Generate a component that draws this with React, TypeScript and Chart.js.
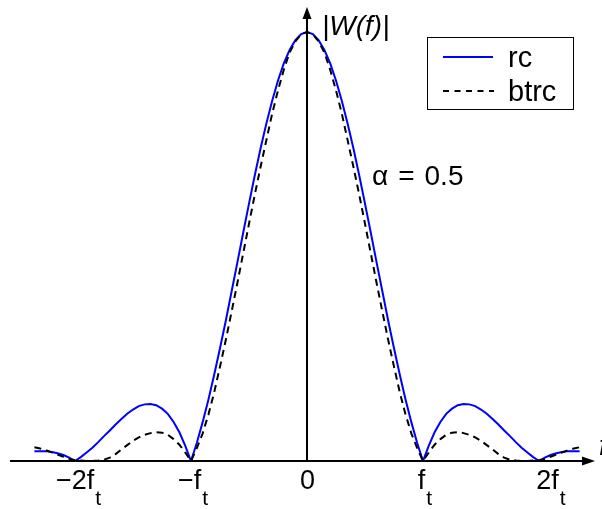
import { useEffect, useRef } from "react";
import { Chart, registerables } from "chart.js";

Chart.register(...registerables);

// Normalised frequency f / f_t
const freq = [
  -2.35, -2.3, -2.25, -2.2, -2.15, -2.1, -2.05, -2.0, -1.95, -1.9, -1.85, -1.8, -1.75, -1.7, -1.65, -1.6,
  -1.55, -1.5, -1.45, -1.4, -1.35, -1.3, -1.25, -1.2, -1.15, -1.1, -1.05, -1.0, -0.95, -0.9, -0.85, -0.8,
  -0.75, -0.7, -0.65, -0.6, -0.55, -0.5, -0.45, -0.4, -0.35, -0.3, -0.25, -0.2, -0.15, -0.1, -0.05, 0,
  0.05, 0.1, 0.15, 0.2, 0.25, 0.3, 0.35, 0.4, 0.45, 0.5, 0.55, 0.6, 0.65, 0.7, 0.75, 0.8,
  0.85, 0.9, 0.95, 1.0, 1.05, 1.1, 1.15, 1.2, 1.25, 1.3, 1.35, 1.4, 1.45, 1.5, 1.55, 1.6,
  1.65, 1.7, 1.75, 1.8, 1.85, 1.9, 1.95, 2.0, 2.05, 2.1, 2.15, 2.2, 2.25, 2.3, 2.35,
];

// |W(f)| of the raised-cosine window
const rcMag = [
  0.023, 0.023, 0.023, 0.021, 0.018, 0.014, 0.008, 0.0, 0.009, 0.02, 0.031, 0.044, 0.058, 0.071, 0.085, 0.098,
  0.11, 0.12, 0.128, 0.132, 0.133, 0.13, 0.122, 0.11, 0.091, 0.067, 0.036, 0.0, 0.042, 0.09, 0.143, 0.201,
  0.263, 0.327, 0.395, 0.463, 0.532, 0.6, 0.666, 0.729, 0.787, 0.84, 0.887, 0.927, 0.958, 0.981, 0.995, 1.0,
  0.995, 0.981, 0.958, 0.927, 0.887, 0.84, 0.787, 0.729, 0.666, 0.6, 0.532, 0.463, 0.395, 0.327, 0.263, 0.201,
  0.143, 0.09, 0.042, 0.0, 0.036, 0.067, 0.091, 0.11, 0.122, 0.13, 0.133, 0.132, 0.128, 0.12, 0.11, 0.098,
  0.085, 0.071, 0.058, 0.044, 0.031, 0.02, 0.009, 0.0, 0.008, 0.014, 0.018, 0.021, 0.023, 0.023, 0.023,
];

// |W(f)| of the better-than-raised-cosine window
const btrcMag = [
  0.032, 0.029, 0.025, 0.02, 0.015, 0.01, 0.005, 0.002, 0.001, 0.0, 0.0, 0.001, 0.003, 0.008, 0.016, 0.027,
  0.037, 0.047, 0.055, 0.061, 0.065, 0.067, 0.066, 0.061, 0.051, 0.038, 0.02, 0.0, 0.03, 0.064, 0.108, 0.16,
  0.22, 0.282, 0.348, 0.415, 0.484, 0.553, 0.621, 0.686, 0.748, 0.81, 0.864, 0.912, 0.952, 0.978, 0.995, 1.0,
  0.995, 0.978, 0.952, 0.912, 0.864, 0.81, 0.748, 0.686, 0.621, 0.553, 0.484, 0.415, 0.348, 0.282, 0.22, 0.16,
  0.108, 0.064, 0.03, 0.0, 0.02, 0.038, 0.051, 0.061, 0.066, 0.067, 0.065, 0.061, 0.055, 0.047, 0.037, 0.027,
  0.016, 0.008, 0.003, 0.001, 0.0, 0.0, 0.001, 0.002, 0.005, 0.01, 0.015, 0.02, 0.025, 0.029, 0.032,
];

const tickValues = [-2, -1, 0, 1, 2];
const tickMain = ["\u22122f", "\u2212f", "0", "f", "2f"];
const tickSub = ["t", "t", "", "t", "t"];
const seriesNames = ["rc", "btrc"];
const yTitle = "|W(f)|";
const xTitle = "f";
const alphaNote = "\u03b1 = 0.5";

const FONT = '"Liberation Sans", Arial, Helvetica, sans-serif';
const BLUE = "#0000ff";
const DASH = [7, 5];

const decorations = {
  id: "decorations",
  beforeDraw(chart: any) {
    const { ctx, width, height } = chart;
    ctx.save();
    ctx.fillStyle = "#ffffff";
    ctx.fillRect(0, 0, width, height);
    ctx.restore();
  },
  afterDatasetsDraw(chart: any) {
    const { ctx } = chart;
    const xs = chart.scales.x;
    const ys = chart.scales.y;
    const x0 = xs.getPixelForValue(0);
    const y0 = ys.getPixelForValue(0);
    const right = xs.right;
    const top = ys.top;

    ctx.save();
    ctx.strokeStyle = "#000";
    ctx.fillStyle = "#000";
    ctx.lineWidth = 2;
    ctx.setLineDash([]);

    // horizontal axis with arrow
    ctx.beginPath();
    ctx.moveTo(xs.left, y0);
    ctx.lineTo(right - 8, y0);
    ctx.stroke();
    ctx.beginPath();
    ctx.moveTo(right, y0);
    ctx.lineTo(right - 13, y0 - 4.5);
    ctx.lineTo(right - 13, y0 + 4.5);
    ctx.closePath();
    ctx.fill();

    // vertical axis with arrow
    ctx.beginPath();
    ctx.moveTo(x0, y0);
    ctx.lineTo(x0, top + 8);
    ctx.stroke();
    ctx.beginPath();
    ctx.moveTo(x0, top);
    ctx.lineTo(x0 - 4.5, top + 12);
    ctx.lineTo(x0 + 4.5, top + 12);
    ctx.closePath();
    ctx.fill();

    // tick labels with subscript
    const nudges = [3.5, 2, 0.5, 2, 12];
    ctx.textBaseline = "alphabetic";
    ctx.textAlign = "left";
    tickValues.forEach((v, i) => {
      const px = xs.getPixelForValue(v) + nudges[i];
      ctx.font = `27px ${FONT}`;
      const wm = ctx.measureText(tickMain[i]).width;
      ctx.font = `21px ${FONT}`;
      const wsub = tickSub[i] ? ctx.measureText(tickSub[i]).width + 1 : 0;
      const start = px - (wm + wsub) / 2;
      ctx.font = `27px ${FONT}`;
      ctx.fillText(tickMain[i], start, 489);
      if (tickSub[i]) {
        ctx.font = `21px ${FONT}`;
        ctx.fillText(tickSub[i], start + wm + 1, 505);
      }
    });

    // axis titles
    ctx.font = `italic 28px ${FONT}`;
    ctx.fillText(yTitle, 322, 35);
    ctx.fillText(xTitle, 599, 455);

    // parameter note
    ctx.font = `28px ${FONT}`;
    const parts = alphaNote.split(" ");
    let nx = 372;
    parts.forEach((p) => {
      ctx.fillText(p, nx, 185);
      nx += ctx.measureText(p).width + 10;
    });

    // legend
    ctx.lineWidth = 1;
    ctx.fillStyle = "#fff";
    ctx.fillRect(427.5, 37.5, 146, 72);
    ctx.strokeRect(427.5, 37.5, 146, 72);
    ctx.lineWidth = 2;
    ctx.strokeStyle = BLUE;
    ctx.beginPath();
    ctx.moveTo(443, 57);
    ctx.lineTo(493, 57);
    ctx.stroke();
    ctx.strokeStyle = "#000";
    ctx.setLineDash([6, 5.5]);
    ctx.beginPath();
    ctx.moveTo(443, 91);
    ctx.lineTo(494, 91);
    ctx.stroke();
    ctx.setLineDash([]);
    ctx.fillStyle = "#000";
    ctx.font = `29px ${FONT}`;
    ctx.fillText(seriesNames[0], 508, 67);
    ctx.fillText(seriesNames[1], 508, 101);

    ctx.restore();
  },
};

export default function App() {
  const canvasRef = useRef<HTMLCanvasElement | null>(null);

  useEffect(() => {
    const canvas = canvasRef.current;
    if (!canvas) return;
    const toPoints = (vals: number[]) => freq.map((f, i) => ({ x: f, y: vals[i] }));
    const chart = new Chart(canvas, {
      type: "line",
      data: {
        datasets: [
          {
            label: seriesNames[1],
            data: toPoints(btrcMag),
            borderColor: "#000",
            borderWidth: 2,
            borderDash: DASH,
            pointRadius: 0,
            tension: 0,
            fill: false,
          },
          {
            label: seriesNames[0],
            data: toPoints(rcMag),
            borderColor: BLUE,
            borderWidth: 2,
            pointRadius: 0,
            tension: 0,
            fill: false,
          },
        ],
      },
      options: {
        animation: false,
        responsive: false,
        events: [],
        layout: { padding: { left: 10, right: 7, top: 7, bottom: 48 } },
        plugins: { legend: { display: false }, tooltip: { enabled: false } },
        scales: {
          x: { type: "linear", min: -2.5603, max: 2.4828, display: false },
          y: { type: "linear", min: 0, max: 1.0583, display: false },
        },
      },
      plugins: [decorations],
    });
    return () => chart.destroy();
  }, []);

  return (
    <div style={{ position: "fixed", left: 0, top: 0, width: 602, height: 509 }}>
      <canvas ref={canvasRef} width={602} height={509} style={{ display: "block" }} />
    </div>
  );
}
